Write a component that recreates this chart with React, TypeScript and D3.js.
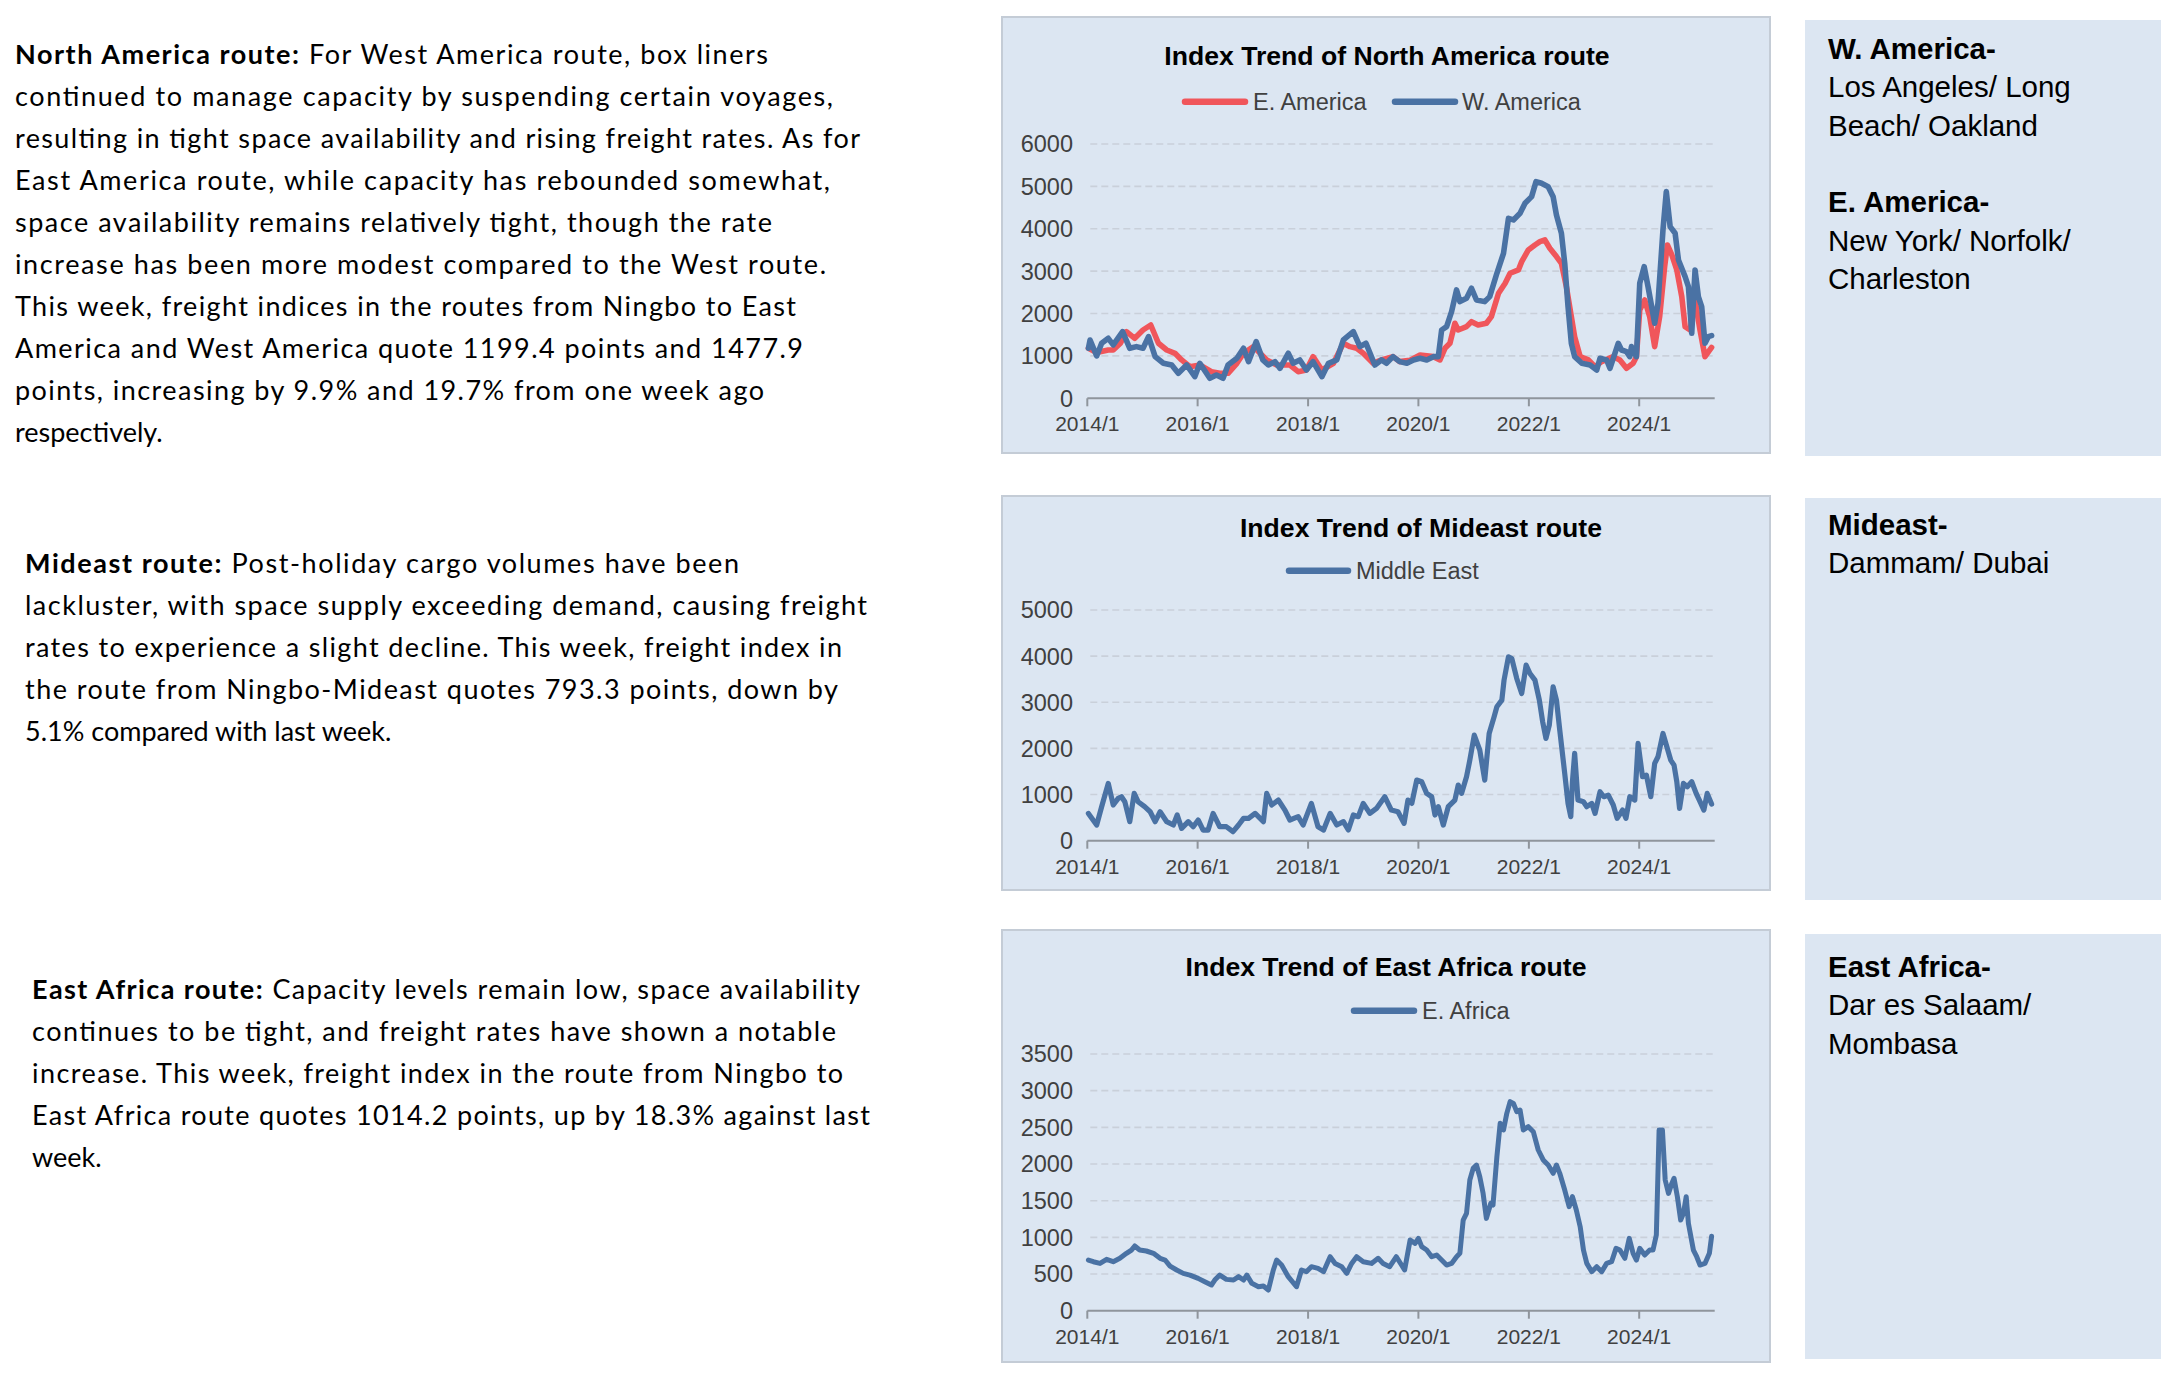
import React from "react";
import * as d3 from "d3";

// ---------- DATA (decimal year, index value) ----------
const eAmerica: [number, number][] = [
  [2014.02, 1180], [2014.17, 1080], [2014.38, 1140], [2014.47, 1140], [2014.6, 1300], [2014.71, 1573], [2014.86, 1415],
  [2015.01, 1612], [2015.15, 1730], [2015.29, 1298], [2015.44, 1140], [2015.59, 1062], [2015.71, 905], [2015.86, 747],
  [2016.04, 786], [2016.25, 629], [2016.4, 590], [2016.55, 590], [2016.71, 826], [2016.83, 1062], [2017.01, 1219],
  [2017.13, 1062], [2017.25, 905], [2017.43, 786], [2017.67, 786], [2017.82, 629], [2017.97, 668], [2018.09, 983],
  [2018.25, 668], [2018.46, 826], [2018.64, 1298], [2018.76, 1219], [2018.88, 1180], [2019.0, 1062], [2019.18, 826],
  [2019.33, 905], [2019.54, 983], [2019.66, 865], [2019.85, 900], [2020.03, 1022], [2020.27, 983], [2020.39, 905],
  [2020.48, 1180], [2020.57, 1298], [2020.66, 1770], [2020.72, 1612], [2020.87, 1691], [2020.96, 1809], [2021.08, 1730],
  [2021.23, 1770], [2021.32, 1927], [2021.45, 2478], [2021.57, 2713], [2021.66, 2950], [2021.81, 3028], [2021.87, 3225],
  [2021.99, 3500], [2022.11, 3618], [2022.2, 3696], [2022.29, 3736], [2022.38, 3539], [2022.5, 3343], [2022.59, 3185],
  [2022.68, 2635], [2022.77, 1927], [2022.83, 1455], [2022.93, 983], [2023.08, 905], [2023.2, 747], [2023.32, 865],
  [2023.53, 983], [2023.65, 905], [2023.77, 708], [2023.89, 826], [2023.95, 983], [2024.01, 2084], [2024.1, 2320],
  [2024.19, 1927], [2024.28, 1219], [2024.37, 1927], [2024.46, 3107], [2024.51, 3618], [2024.59, 3382], [2024.68, 3028],
  [2024.77, 2399], [2024.83, 1691], [2024.92, 1612], [2025.01, 2320], [2025.1, 1612], [2025.19, 983], [2025.31, 1199],
];

const wAmerica: [number, number][] = [
  [2014.02, 1180], [2014.05, 1376], [2014.17, 1000], [2014.26, 1300], [2014.38, 1415], [2014.47, 1260], [2014.64, 1573],
  [2014.77, 1180], [2014.89, 1220], [2015.01, 1180], [2015.11, 1455], [2015.23, 983], [2015.38, 826], [2015.53, 786],
  [2015.65, 590], [2015.8, 786], [2015.95, 511], [2016.04, 826], [2016.22, 472], [2016.34, 550], [2016.46, 472],
  [2016.55, 786], [2016.71, 944], [2016.83, 1180], [2016.92, 865], [2017.06, 1337], [2017.18, 905], [2017.28, 786],
  [2017.4, 865], [2017.49, 708], [2017.64, 1062], [2017.73, 826], [2017.85, 905], [2017.97, 668], [2018.09, 865],
  [2018.25, 511], [2018.37, 826], [2018.52, 905], [2018.64, 1376], [2018.82, 1573], [2018.94, 1219], [2019.05, 1298],
  [2019.21, 786], [2019.33, 905], [2019.42, 826], [2019.54, 983], [2019.66, 865], [2019.79, 826], [2019.91, 905],
  [2020.03, 944], [2020.15, 905], [2020.27, 983], [2020.36, 983], [2020.42, 1612], [2020.51, 1691], [2020.6, 2045],
  [2020.69, 2556], [2020.75, 2281], [2020.87, 2360], [2020.96, 2596], [2021.05, 2320], [2021.2, 2281], [2021.29, 2399],
  [2021.42, 2950], [2021.54, 3421], [2021.63, 4247], [2021.72, 4208], [2021.84, 4365], [2021.93, 4601], [2022.05, 4758],
  [2022.13, 5112], [2022.23, 5073], [2022.35, 4994], [2022.44, 4758], [2022.5, 4326], [2022.59, 3893], [2022.65, 3185],
  [2022.71, 2163], [2022.77, 1298], [2022.83, 983], [2022.96, 826], [2023.11, 786], [2023.23, 668], [2023.29, 944],
  [2023.41, 905], [2023.47, 708], [2023.62, 1298], [2023.68, 1140], [2023.77, 1101], [2023.83, 983], [2023.86, 1219],
  [2023.95, 983], [2024.01, 2713], [2024.09, 3107], [2024.16, 2635], [2024.28, 1770], [2024.34, 2242], [2024.43, 3972],
  [2024.49, 4876], [2024.56, 4050], [2024.65, 3893], [2024.71, 3264], [2024.83, 2871], [2024.89, 2635], [2024.95, 1534],
  [2025.01, 3028], [2025.07, 2399], [2025.13, 2163], [2025.19, 1298], [2025.25, 1455], [2025.31, 1478],
];

const middleEast: [number, number][] = [
  [2014.02, 592], [2014.17, 340], [2014.26, 737], [2014.38, 1242], [2014.47, 773], [2014.56, 917], [2014.62, 953],
  [2014.68, 845], [2014.77, 412], [2014.85, 1025], [2014.92, 845], [2015.04, 737], [2015.14, 628], [2015.23, 412],
  [2015.32, 628], [2015.44, 412], [2015.56, 340], [2015.63, 556], [2015.71, 267], [2015.83, 412], [2015.92, 303],
  [2016.01, 448], [2016.1, 231], [2016.19, 231], [2016.28, 592], [2016.4, 303], [2016.52, 303], [2016.64, 195],
  [2016.74, 340], [2016.83, 484], [2016.92, 484], [2017.04, 592], [2017.19, 412], [2017.25, 1025], [2017.34, 773],
  [2017.46, 881], [2017.58, 664], [2017.67, 448], [2017.82, 520], [2017.91, 340], [2018.06, 809], [2018.18, 303],
  [2018.28, 231], [2018.4, 592], [2018.52, 340], [2018.64, 412], [2018.73, 231], [2018.82, 556], [2018.91, 520],
  [2019.0, 809], [2019.12, 592], [2019.24, 700], [2019.39, 953], [2019.51, 664], [2019.63, 628], [2019.74, 375],
  [2019.81, 881], [2019.88, 809], [2019.97, 1314], [2020.06, 1278], [2020.15, 1025], [2020.24, 953], [2020.3, 556],
  [2020.36, 737], [2020.45, 340], [2020.54, 737], [2020.66, 881], [2020.72, 1206], [2020.78, 1025], [2020.87, 1386],
  [2020.93, 1747], [2021.01, 2289], [2021.11, 1964], [2021.2, 1314], [2021.28, 2325], [2021.37, 2686], [2021.42, 2903],
  [2021.51, 3047], [2021.55, 3480], [2021.63, 3986], [2021.69, 3949], [2021.78, 3516], [2021.87, 3191], [2021.95, 3805],
  [2022.02, 3624], [2022.11, 3480], [2022.19, 3047], [2022.25, 2578], [2022.31, 2217], [2022.37, 2505], [2022.44, 3336],
  [2022.5, 3047], [2022.56, 2397], [2022.65, 1458], [2022.71, 809], [2022.76, 520], [2022.79, 1278], [2022.83, 1892],
  [2022.89, 881], [2022.99, 845], [2023.05, 737], [2023.14, 809], [2023.2, 592], [2023.29, 1061], [2023.36, 953],
  [2023.44, 989], [2023.53, 773], [2023.6, 484], [2023.7, 664], [2023.76, 484], [2023.83, 953], [2023.92, 881],
  [2023.98, 2108], [2024.06, 1386], [2024.13, 1422], [2024.21, 953], [2024.28, 1675], [2024.34, 1819], [2024.43, 2325],
  [2024.5, 2036], [2024.57, 1747], [2024.63, 1639], [2024.68, 1278], [2024.73, 700], [2024.8, 1242], [2024.87, 1170],
  [2024.95, 1278], [2025.03, 1025], [2025.1, 845], [2025.17, 664], [2025.23, 1025], [2025.31, 793],
];

const eAfrica: [number, number][] = [
  [2014.02, 691], [2014.11, 668], [2014.23, 645], [2014.35, 700], [2014.47, 668], [2014.59, 714], [2014.71, 782],
  [2014.8, 827], [2014.86, 882], [2014.95, 827], [2015.07, 814], [2015.2, 782], [2015.32, 714], [2015.41, 691],
  [2015.5, 609], [2015.62, 555], [2015.74, 509], [2015.86, 486], [2016.01, 441], [2016.13, 395], [2016.25, 350],
  [2016.31, 418], [2016.4, 486], [2016.52, 427], [2016.65, 418], [2016.74, 464], [2016.83, 418], [2016.89, 486],
  [2016.98, 373], [2017.1, 327], [2017.19, 336], [2017.28, 282], [2017.37, 555], [2017.43, 691], [2017.52, 623],
  [2017.64, 464], [2017.79, 327], [2017.88, 555], [2017.97, 532], [2018.06, 600], [2018.18, 577], [2018.28, 532],
  [2018.4, 736], [2018.49, 645], [2018.61, 600], [2018.7, 509], [2018.79, 645], [2018.88, 736], [2019.0, 668],
  [2019.15, 645], [2019.27, 714], [2019.36, 645], [2019.48, 600], [2019.6, 736], [2019.68, 640], [2019.75, 555],
  [2019.85, 964], [2019.94, 918], [2020.0, 986], [2020.06, 873], [2020.15, 827], [2020.24, 736], [2020.33, 759],
  [2020.42, 691], [2020.51, 623], [2020.6, 645], [2020.69, 736], [2020.75, 782], [2020.81, 1236], [2020.87, 1327],
  [2020.93, 1782], [2020.99, 1941], [2021.05, 1986], [2021.11, 1827], [2021.17, 1600], [2021.23, 1259], [2021.31, 1464],
  [2021.35, 1441], [2021.42, 2100], [2021.48, 2555], [2021.54, 2464], [2021.6, 2691], [2021.66, 2850], [2021.72, 2827],
  [2021.78, 2714], [2021.84, 2736], [2021.9, 2464], [2021.99, 2509], [2022.08, 2441], [2022.17, 2191], [2022.26, 2055],
  [2022.35, 1986], [2022.44, 1873], [2022.5, 1986], [2022.56, 1873], [2022.65, 1645], [2022.73, 1418], [2022.79, 1555],
  [2022.86, 1373], [2022.93, 1145], [2022.99, 827], [2023.05, 645], [2023.14, 532], [2023.23, 600], [2023.32, 532],
  [2023.41, 645], [2023.5, 668], [2023.58, 850], [2023.65, 827], [2023.74, 714], [2023.82, 986], [2023.89, 782],
  [2023.95, 691], [2024.01, 850], [2024.1, 759], [2024.19, 827], [2024.25, 827], [2024.31, 1032], [2024.36, 2464],
  [2024.42, 2464], [2024.47, 1782], [2024.53, 1600], [2024.59, 1736], [2024.63, 1805], [2024.69, 1555], [2024.75, 1236],
  [2024.8, 1327], [2024.85, 1555], [2024.89, 1191], [2024.98, 827], [2025.04, 736], [2025.1, 623], [2025.19, 645],
  [2025.27, 782], [2025.31, 1014],
];

const xTickYears = [2014, 2016, 2018, 2020, 2022, 2024];
const naYTicks = [0, 1000, 2000, 3000, 4000, 5000, 6000];
const meYTicks = [0, 1000, 2000, 3000, 4000, 5000];
const eafYTicks = [0, 500, 1000, 1500, 2000, 2500, 3000, 3500];

const para1: (string | [string, string])[] = [
  ["North America route:", " For West America route, box liners"],
  "continued to manage capacity by suspending certain voyages,",
  "resulting in tight space availability and rising freight rates. As for",
  "East America route, while capacity has rebounded somewhat,",
  "space availability remains relatively tight, though the rate",
  "increase has been more modest compared to the West route.",
  "This week, freight indices in the routes from Ningbo to East",
  "America and West America quote 1199.4 points and 1477.9",
  "points, increasing by 9.9% and 19.7% from one week ago",
  "respectively.",
];
const para2: (string | [string, string])[] = [
  ["Mideast route:", " Post-holiday cargo volumes have been"],
  "lackluster, with space supply exceeding demand, causing freight",
  "rates to experience a slight decline. This week, freight index in",
  "the route from Ningbo-Mideast quotes 793.3 points, down by",
  "5.1% compared with last week.",
];
const para3: (string | [string, string])[] = [
  ["East Africa route:", " Capacity levels remain low, space availability"],
  "continues to be tight, and freight rates have shown a notable",
  "increase. This week, freight index in the route from Ningbo to",
  "East Africa route quotes 1014.2 points, up by 18.3% against last",
  "week.",
];

const portsNA: [string, string[]][] = [
  ["W. America-", ["Los Angeles/ Long", "Beach/ Oakland"]],
  ["E. America-", ["New York/ Norfolk/", "Charleston"]],
];
const portsME: [string, string[]][] = [["Mideast-", ["Dammam/ Dubai"]]];
const portsEAF: [string, string[]][] = [["East Africa-", ["Dar es Salaam/", "Mombasa"]]];

// ---------- LAYOUT / STYLE ----------
const W = 2174;
const H = 1380;
const BLUE = "#4a72a4";
const RED = "#f0565b";
const PANEL = "#dce6f2";
const AX = "Liberation Sans, Arial, sans-serif";
const BODY = "Lato, Carlito, Calibri, sans-serif";

function toDate(t: number): Date {
  const y = Math.floor(t);
  const s = +new Date(y, 0, 1);
  const e = +new Date(y + 1, 0, 1);
  return new Date(s + (t - y) * (e - s));
}

const x = d3
  .scaleTime()
  .domain([new Date(2014, 0, 1), toDate(2025.33)])
  .range([1087.3, 1712.7]);

type Series = { name: string; data: [number, number][]; color: string; lx1: number; lx2: number; tx: number };
type ChartCfg = {
  box: [number, number, number, number];
  yRange: [number, number];
  yMax: number;
  ticks: number[];
  title: string;
  titleX: number;
  titleY: number;
  legendY: number;
  series: Series[];
  width: number;
};

const charts: ChartCfg[] = [
  {
    box: [1002, 17, 768, 436],
    yRange: [398.3, 144],
    yMax: 6000,
    ticks: naYTicks,
    title: "Index Trend of North America route",
    titleX: 1387,
    titleY: 65,
    legendY: 101.7,
    width: 5.6,
    series: [
      { name: "E. America", data: eAmerica, color: RED, lx1: 1185, lx2: 1245, tx: 1253 },
      { name: "W. America", data: wAmerica, color: BLUE, lx1: 1395, lx2: 1455, tx: 1462 },
    ],
  },
  {
    box: [1002, 496, 768, 394],
    yRange: [840.7, 610],
    yMax: 5000,
    ticks: meYTicks,
    title: "Index Trend of Mideast route",
    titleX: 1421,
    titleY: 537,
    legendY: 570.7,
    width: 5.2,
    series: [{ name: "Middle East", data: middleEast, color: BLUE, lx1: 1289, lx2: 1348, tx: 1356 }],
  },
  {
    box: [1002, 930, 768, 432],
    yRange: [1310.7, 1054],
    yMax: 3500,
    ticks: eafYTicks,
    title: "Index Trend of East Africa route",
    titleX: 1386,
    titleY: 976,
    legendY: 1010.7,
    width: 5.0,
    series: [{ name: "E. Africa", data: eAfrica, color: BLUE, lx1: 1354, lx2: 1414, tx: 1422 }],
  },
];

function Chart({ c }: { c: ChartCfg }) {
  const y = d3.scaleLinear().domain([0, c.yMax]).range(c.yRange);
  const line = d3
    .line<[number, number]>()
    .x((d) => x(toDate(d[0])))
    .y((d) => y(d[1]));
  const [bx, by, bw, bh] = c.box;
  const x0 = x.range()[0];
  const x1 = x.range()[1];
  return (
    <g>
      <rect x={bx} y={by} width={bw} height={bh} fill={PANEL} stroke="#c4ccd6" strokeWidth={2} />
      <text x={c.titleX} y={c.titleY} textAnchor="middle" fontFamily={AX} fontWeight="bold" fontSize={26.6} fill="#000">
        {c.title}
      </text>
      {c.series.map((s) => (
        <g key={"lg" + s.name}>
          <line x1={s.lx1} x2={s.lx2} y1={c.legendY} y2={c.legendY} stroke={s.color} strokeWidth={6.5} strokeLinecap="round" />
          <text x={s.tx} y={c.legendY + 8.5} fontFamily={AX} fontSize={23.5} fill="#404040">
            {s.name}
          </text>
        </g>
      ))}
      {c.ticks.map((t) => (
        <g key={"gy" + t}>
          {t > 0 && (
            <line x1={x0 + 3} x2={x1} y1={y(t)} y2={y(t)} stroke="#c9d0da" strokeWidth={1.6} strokeDasharray="7 4" />
          )}
          <text x={1073} y={y(t)} dy="0.36em" textAnchor="end" fontFamily={AX} fontSize={23.5} fill="#404040">
            {t}
          </text>
        </g>
      ))}
      <line x1={x0} x2={x1 + 2} y1={y(0)} y2={y(0)} stroke="#8f959c" strokeWidth={2} />
      {xTickYears.map((yr) => {
        const px = x(new Date(yr, 0, 1));
        return (
          <g key={"xt" + yr}>
            <line x1={px} x2={px} y1={y(0)} y2={y(0) + 8} stroke="#8f959c" strokeWidth={2} />
            <text x={px} y={y(0) + 33} textAnchor="middle" fontFamily={AX} fontSize={21} fill="#404040">
              {yr + "/1"}
            </text>
          </g>
        );
      })}
      {c.series.map((s) => (
        <path
          key={"ln" + s.name}
          d={line(s.data) || ""}
          fill="none"
          stroke={s.color}
          strokeWidth={c.width}
          strokeLinejoin="round"
          strokeLinecap="round"
        />
      ))}
    </g>
  );
}

function Paragraph({ lines, x0, y0, widths }: { lines: (string | [string, string])[]; x0: number; y0: number; widths: number[] }) {
  return (
    <g>
      {lines.map((ln, i) => {
        const w = widths[i];
        const props: any = w ? { textLength: w, lengthAdjust: "spacing" } : {};
        return (
          <text key={i} x={x0} y={y0 + i * 42} fontFamily={BODY} fontSize={27} fill="#000" {...props}>
            {typeof ln === "string" ? (
              ln
            ) : (
              <>
                <tspan fontWeight="bold">{ln[0]}</tspan>
                <tspan>{ln[1]}</tspan>
              </>
            )}
          </text>
        );
      })}
    </g>
  );
}

function Ports({ items, box, x0, y0 }: { items: [string, string[]][]; box: [number, number, number, number]; x0: number; y0: number }) {
  let k = 0;
  const rows: React.ReactNode[] = [];
  items.forEach(([head, sub], gi) => {
    if (gi > 0) k += 1;
    rows.push(
      <text key={"h" + gi} x={x0} y={y0 + k * 38.3} fontFamily={AX} fontWeight="bold" fontSize={29.5} fill="#000">
        {head}
      </text>
    );
    k += 1;
    sub.forEach((s, si) => {
      rows.push(
        <text key={"s" + gi + "-" + si} x={x0} y={y0 + k * 38.3} fontFamily={AX} fontSize={29.5} fill="#000">
          {s}
        </text>
      );
      k += 1;
    });
  });
  const [bx, by, bw, bh] = box;
  return (
    <g>
      <rect x={bx} y={by} width={bw} height={bh} fill={PANEL} />
      {rows}
    </g>
  );
}

export default function App() {
  return (
    <div style={{ position: "absolute", left: 0, top: 0, width: W, height: H, background: "#fff" }}>
      <svg width={W} height={H} viewBox={`0 0 ${W} ${H}`} style={{ display: "block" }}>
        <rect x={0} y={0} width={W} height={H} fill="#fff" />
        <Paragraph lines={para1} x0={15} y0={64} widths={[753, 818, 845, 815, 757, 811, 781, 788, 749, 0]} />
        <Paragraph lines={para2} x0={25} y0={573} widths={[714, 842, 817, 813, 0]} />
        <Paragraph lines={para3} x0={32} y0={999} widths={[828, 804, 811, 838, 0]} />
        {charts.map((c, i) => (
          <Chart key={i} c={c} />
        ))}
        <Ports items={portsNA} box={[1805, 20, 356, 436]} x0={1828} y0={59} />
        <Ports items={portsME} box={[1805, 498, 356, 402]} x0={1828} y0={535} />
        <Ports items={portsEAF} box={[1805, 934, 356, 425]} x0={1828} y0={977} />
      </svg>
    </div>
  );
}
